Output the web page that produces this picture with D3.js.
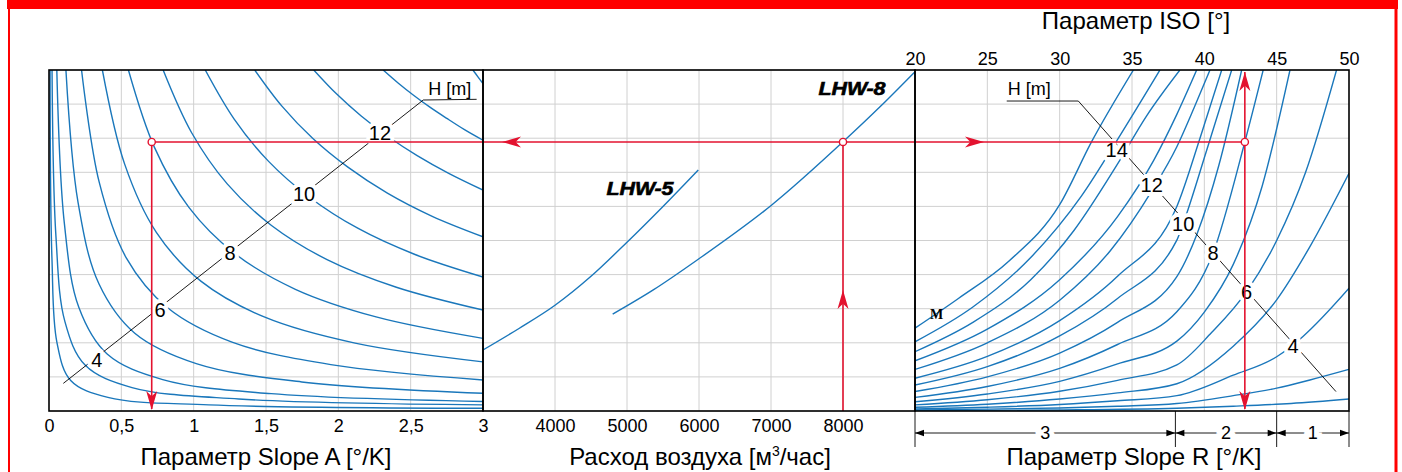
<!DOCTYPE html>
<html>
<head>
<meta charset="utf-8">
<script src="https://cdn.jsdelivr.net/npm/d3@7"></script>
<style>
  body { margin: 0; background: #fff; }
  text { font-family: "Liberation Sans", Arial, sans-serif; }
</style>
</head>
<body>
<div id="chart"></div>
<script>
// ---- data ----
// shared vertical scale (no labels), 10 grid divisions
var yTicks = [0, 1, 2, 3, 4, 5, 6, 7, 8, 9, 10];

// left panel: Slope A, one curve per H = 2..14
var slopeATicks = [0, 0.5, 1, 1.5, 2, 2.5, 3];
var slopeAH = [2, 3, 4, 5, 6, 7, 8, 9, 10, 11, 12, 13, 14];
var slopeACurves = [
  [[0.0075,10],[0.0204,4.47],[0.0553,2.0],[0.15,0.894],[0.407,0.4],[1.105,0.179],[3,0.08]],
  [[0.021,10],[0.048,5.12],[0.11,2.62],[0.251,1.34],[0.574,0.687],[1.312,0.352],[3,0.18]],
  [[0.054,10],[0.106,5.51],[0.206,3.04],[0.402,1.67],[0.786,0.922],[1.536,0.508],[3,0.28]],
  [[0.117,10],[0.201,6.11],[0.345,3.73],[0.593,2.28],[1.018,1.39],[1.747,0.852],[3,0.52]],
  [[0.225,10],[0.347,6.71],[0.533,4.5],[0.822,3.02],[1.265,2.02],[1.948,1.36],[3,0.91]],
  [[0.369,10],[0.523,7.24],[0.742,5.24],[1.052,3.8],[1.492,2.75],[2.116,1.99],[3,1.44]],
  [[0.549,10],[0.729,7.73],[0.967,5.97],[1.283,4.62],[1.703,3.57],[2.261,2.76],[3,2.13]],
  [[0.789,10],[0.986,8.16],[1.232,6.66],[1.538,5.44],[1.922,4.44],[2.401,3.63],[3,2.96]],
  [[1.08,10],[1.28,8.56],[1.518,7.32],[1.8,6.27],[2.134,5.36],[2.53,4.59],[3,3.93]],
  [[1.422,10],[1.61,8.94],[1.824,7.99],[2.066,7.15],[2.339,6.39],[2.649,5.71],[3,5.11]],
  [[1.83,10],[1.987,9.3],[2.158,8.65],[2.343,8.05],[2.545,7.49],[2.763,6.97],[3,6.48]],
  [[2.31,10],[2.413,9.62],[2.52,9.26],[2.633,8.91],[2.75,8.58],[2.872,8.25],[3,7.94]],
  [[2.93,10],[2.965,9.8],[3,9.6]]
];
var slopeALabelH = [4, 6, 8, 10, 12];
var slopeALabelX = [0.33, 0.767, 1.251, 1.763, 2.288];
var slopeALabelY = [1.5, 2.98, 4.64, 6.38, 8.16];
var slopeALeader = [[0.099, 0.81], [2.587, 9.12], [2.956, 9.14]];

// middle panel: air flow
var flowTicks = [4000, 5000, 6000, 7000, 8000];
var flowGrid = [4000, 5000, 6000, 7000, 8000];
var unitNames = ["LHW-5", "LHW-8"];
var unitCurves = [
  [[3000,1.79],[3500,2.42],[4000,3.1],[4500,3.95],[5000,4.95],[5500,6.0],[5990,7.07]],
  [[4801,2.84],[5365,3.55],[5990,4.45],[7010,6.04],[8004,7.9],[8514,8.92],[9000,9.95]]
];
var unitLabelX = [5180, 8125];
var unitLabelY = [6.54, 9.47];

// right panel: ISO, one curve per H = 16..2
var isoTicks = [20, 25, 30, 35, 40, 45, 50];
var isoH = [16, 15, 14, 13, 12, 11, 10, 9, 8, 7, 6, 5, 4, 3, 2];
var isoCurves = [
  [[20,2.43],[23,3.3],[26.5,4.4],[30,6.05],[32.2,7.89],[35.1,10]],
  [[20,2.03],[24,3.05],[28,4.5],[31.5,6.3],[34.2,8.1],[36.93,10]],
  [[20,1.74],[24,2.6],[28,3.85],[31,5.3],[33.94,7.2],[36,8.65],[38.31,10]],
  [[20,1.47],[25,2.4],[30,3.85],[34,5.7],[36.5,7.35],[38.1,8.7],[39.47,10]],
  [[20,1.22],[25,2.0],[30,3.25],[33.5,4.7],[36.36,6.45],[38.1,7.75],[39.3,8.9],[40.39,10]],
  [[20,0.96],[25,1.6],[30,2.65],[34,3.95],[38.1,6.0],[39.7,8.0],[41.2,10]],
  [[20,0.76],[25,1.3],[30,2.2],[34,3.3],[38.1,5.01],[38.54,5.5],[40.2,7.7],[41.89,10]],
  [[20,0.57],[25,1.0],[30,1.7],[34,2.6],[38.1,3.94],[39.5,5.2],[41,7.2],[42.58,10]],
  [[20,0.4],[25,0.72],[30,1.25],[34,1.95],[38.1,2.91],[40.61,4.64],[42.8,7.89],[44.07,10]],
  [[20,0.27],[25,0.5],[30,0.87],[34,1.38],[38.1,2.05],[40,2.9],[42,4.3],[44,6.6],[45.92,10]],
  [[20,0.18],[25,0.33],[30,0.58],[34,0.9],[38.1,1.35],[40.5,2.3],[42.92,3.5],[45,5.0],[47,7.0],[49.14,10]],
  [[20,0.11],[25,0.2],[30,0.35],[34,0.53],[38.1,0.8],[42,1.9],[45,3.26],[47.3,4.82],[50,6.97]],
  [[20,0.06],[25,0.11],[30,0.19],[34,0.3],[38.1,0.45],[42,1.05],[45,1.59],[46.8,2.18],[50,3.6]],
  [[20,0.03],[25,0.055],[30,0.09],[34,0.14],[38.1,0.22],[42,0.45],[45,0.67],[47.3,0.91],[50,1.22]],
  [[20,0.01],[30,0.03],[38.1,0.08],[42,0.14],[46,0.22],[50,0.35]]
];
var isoLabelH = [14, 12, 10, 8, 6, 4];
var isoLabelX = [33.94, 36.36, 38.54, 40.61, 42.92, 46.14];
var isoLabelY = [7.67, 6.63, 5.5, 4.64, 3.5, 1.91];
var isoLeader = [[26.34, 9.09], [31.29, 9.09], [49.1, 0.57]];
var slopeRBreaks = [20, 38, 45, 50];
var slopeRLabels = ["3", "2", "1"];

// worked example
var exampleSlopeA = 0.71;
var exampleFlow = 8000;
var exampleISO = 42.8;
var exampleLevel = 7.89;

// ---- drawing ----
var W = 1402, H = 472;
var plotTop = 70, plotBottom = 411;
var blue = "#1a77bb", red = "#e3122f", grid = "#d0d0d0";

var svg = d3.select("#chart").append("svg")
  .attr("width", W).attr("height", H);

// red frame
svg.append("rect").attr("x", 7).attr("y", 0).attr("width", 1391).attr("height", 9).attr("fill", "#ff0000");
svg.append("rect").attr("x", 8).attr("y", 0).attr("width", 2).attr("height", H).attr("fill", "#ff0000");
svg.append("rect").attr("x", 1394.5).attr("y", 0).attr("width", 3).attr("height", H).attr("fill", "#ff0000");

var y = d3.scaleLinear().domain([0, 10]).range([plotBottom, plotTop]);
var xA = d3.scaleLinear().domain([0, 3]).range([49, 483]);
var xQ = d3.scaleLinear().domain([3000, 9000]).range([483, 915]);
var xI = d3.scaleLinear().domain([20, 50]).range([915, 1349]);

var defs = svg.append("defs");
function clip(id, x0, x1) {
  defs.append("clipPath").attr("id", id).append("rect")
    .attr("x", x0).attr("y", plotTop).attr("width", x1 - x0).attr("height", plotBottom - plotTop);
  return "url(#" + id + ")";
}

function gridFor(x, vt) {
  var g = svg.append("g");
  var r = x.range();
  g.selectAll(".h").data(yTicks).enter().append("line")
    .attr("x1", r[0]).attr("x2", r[1])
    .attr("y1", function(d) { return y(d); }).attr("y2", function(d) { return y(d); })
    .attr("stroke", grid).attr("stroke-width", 1);
  g.selectAll(".v").data(vt).enter().append("line")
    .attr("x1", function(d) { return x(d); }).attr("x2", function(d) { return x(d); })
    .attr("y1", plotTop).attr("y2", plotBottom)
    .attr("stroke", grid).attr("stroke-width", 1);
}
gridFor(xA, [0.5, 1, 1.5, 2, 2.5]);
gridFor(xQ, flowGrid);
gridFor(xI, [25, 30, 35, 40, 45]);

// curves
var lineA = d3.line().x(function(d) { return xA(d[0]); }).y(function(d) { return y(d[1]); })
  .curve(d3.curveCatmullRom.alpha(0.5));
var lineQ = d3.line().x(function(d) { return xQ(d[0]); }).y(function(d) { return y(d[1]); })
  .curve(d3.curveMonotoneX);
var lineI = d3.line().x(function(d) { return xI(d[0]); }).y(function(d) { return y(d[1]); })
  .curve(d3.curveMonotoneX);

svg.append("g").attr("clip-path", clip("clipA", 49, 483))
  .selectAll("path").data(slopeACurves).enter().append("path")
  .attr("d", lineA).attr("fill", "none").attr("stroke", blue).attr("stroke-width", 1.4);

svg.append("g").attr("clip-path", clip("clipQ", 483, 915))
  .selectAll("path").data(unitCurves).enter().append("path")
  .attr("d", lineQ).attr("fill", "none").attr("stroke", blue).attr("stroke-width", 1.4);

svg.append("g").attr("clip-path", clip("clipI", 915, 1349))
  .selectAll("path").data(isoCurves).enter().append("path")
  .attr("d", lineI).attr("fill", "none").attr("stroke", blue).attr("stroke-width", 1.4);

// leader lines and H labels
function leader(x, pts) {
  svg.append("path")
    .attr("d", d3.line().x(function(d) { return x(d[0]); }).y(function(d) { return y(d[1]); })(pts))
    .attr("fill", "none").attr("stroke", "#000").attr("stroke-width", 0.9);
}
leader(xA, slopeALeader);
leader(xI, isoLeader);

function hLabels(x, hs, xs, ys) {
  svg.append("g").selectAll("text").data(hs).enter().append("text")
    .attr("x", function(d, i) { return x(xs[i]); })
    .attr("y", function(d, i) { return y(ys[i]); })
    .attr("dy", "0.36em")
    .attr("text-anchor", "middle")
    .attr("font-size", 20)
    .attr("stroke", "#fff").attr("stroke-width", 8).attr("paint-order", "stroke")
    .attr("stroke-linejoin", "round")
    .text(function(d) { return d; });
}
hLabels(xA, slopeALabelH, slopeALabelX, slopeALabelY);
hLabels(xI, isoLabelH, isoLabelX, isoLabelY);

svg.append("text").attr("x", xA(2.77)).attr("y", y(9.47)).attr("dy", "0.36em")
  .attr("text-anchor", "middle").attr("font-size", 18).text("H [m]");
svg.append("text").attr("x", xI(27.9)).attr("y", y(9.47)).attr("dy", "0.36em")
  .attr("text-anchor", "middle").attr("font-size", 18).text("H [m]");
svg.append("text").attr("x", xI(21.5)).attr("y", y(2.84)).attr("dy", "0.36em")
  .attr("text-anchor", "middle").attr("font-size", 14).attr("font-weight", "bold")
  .style("font-family", "'Liberation Serif', serif").text("M");

// unit labels
svg.append("g").selectAll("text").data(unitNames).enter().append("text")
  .attr("x", function(d, i) { return xQ(unitLabelX[i]); })
  .attr("y", function(d, i) { return y(unitLabelY[i]); })
  .attr("dy", "0.36em")
  .attr("text-anchor", "middle")
  .attr("font-size", 19).attr("font-weight", "bold").attr("font-style", "italic")
  .attr("stroke", "#000").attr("stroke-width", 0.6)
  .attr("textLength", 67).attr("lengthAdjust", "spacingAndGlyphs")
  .text(function(d) { return d; });

// worked example (red)
var ey = y(exampleLevel);
var ex0 = xA(exampleSlopeA), ex1 = xQ(exampleFlow), ex2 = xI(exampleISO);
var gr = svg.append("g").attr("stroke", red).attr("fill", "none").attr("stroke-width", 1.6);
gr.append("line").attr("x1", ex0).attr("x2", ex2).attr("y1", ey).attr("y2", ey);
gr.append("line").attr("x1", ex0).attr("x2", ex0).attr("y1", ey).attr("y2", plotBottom - 2);
gr.append("line").attr("x1", ex1).attr("x2", ex1).attr("y1", ey).attr("y2", plotBottom);
gr.append("line").attr("x1", ex2).attr("x2", ex2).attr("y1", plotTop + 2).attr("y2", plotBottom - 2);

function arrow(px, py, angle, len, wid) {
  // tip at px,py; angle is the direction the tip points (deg)
  var p = "M0,0 L" + (-len) + "," + (-wid / 2) + " L" + (-len * 0.72) + ",0 L" + (-len) + "," + (wid / 2) + " Z";
  svg.append("path").attr("d", p)
    .attr("transform", "translate(" + px + "," + py + ") rotate(" + angle + ")")
    .attr("fill", red);
}
arrow(ex0, plotBottom - 1, 90, 19, 11);
arrow(ex1, 290, -90, 19, 11);
arrow(502, ey, 180, 19, 11);
arrow(984, ey, 0, 19, 11);
arrow(ex2, plotTop + 2, -90, 19, 11);
arrow(ex2, plotBottom - 1, 90, 19, 11);

[ex0, ex1, ex2].forEach(function(cx) {
  svg.append("circle").attr("cx", cx).attr("cy", ey).attr("r", 3.6)
    .attr("fill", "#fff").attr("stroke", red).attr("stroke-width", 1.4);
});

// panel borders
[[49, 483], [483, 915], [915, 1349]].forEach(function(r) {
  svg.append("rect").attr("x", r[0]).attr("y", plotTop).attr("width", r[1] - r[0]).attr("height", plotBottom - plotTop)
    .attr("fill", "none").attr("stroke", "#000").attr("stroke-width", 1.6);
});

// axes
function styleAxis(g) {
  g.select(".domain").remove();
  g.selectAll("text").attr("font-size", 18).attr("fill", "#000")
    .style("font-family", "'Liberation Sans', Arial, sans-serif");
}
svg.append("g").attr("transform", "translate(0," + plotBottom + ")")
  .call(d3.axisBottom(xA).tickValues(slopeATicks).tickSize(0).tickPadding(8)
    .tickFormat(function(d) { return String(d).replace(".", ","); }))
  .call(styleAxis);
svg.append("g").attr("transform", "translate(0," + plotBottom + ")")
  .call(d3.axisBottom(xQ).tickValues(flowTicks).tickSize(0).tickPadding(8).tickFormat(d3.format("d")))
  .call(styleAxis);
svg.append("g").attr("transform", "translate(0," + plotTop + ")")
  .call(d3.axisTop(xI).tickValues(isoTicks).tickSize(0).tickPadding(5))
  .call(styleAxis);

// slope R dimension lines
var dim = svg.append("g");
var dimY = 433;
slopeRBreaks.forEach(function(b) {
  dim.append("line").attr("x1", xI(b)).attr("x2", xI(b)).attr("y1", plotBottom).attr("y2", 447)
    .attr("stroke", "#000").attr("stroke-width", 0.9);
});
slopeRLabels.forEach(function(lab, i) {
  var a = xI(slopeRBreaks[i]), b = xI(slopeRBreaks[i + 1]);
  dim.append("line").attr("x1", a).attr("x2", b).attr("y1", dimY).attr("y2", dimY)
    .attr("stroke", "#000").attr("stroke-width", 0.9);
  [[a, 180], [b, 0]].forEach(function(t) {
    dim.append("path").attr("d", "M0,0 L-9,-3.2 L-9,3.2 Z")
      .attr("transform", "translate(" + t[0] + "," + dimY + ") rotate(" + t[1] + ")")
      .attr("fill", "#000");
  });
  dim.append("text").attr("x", (a + b) / 2).attr("y", dimY).attr("dy", "0.36em")
    .attr("text-anchor", "middle").attr("font-size", 18)
    .attr("stroke", "#fff").attr("stroke-width", 10).attr("paint-order", "stroke")
    .text(lab);
});

// axis titles
svg.append("text").attr("x", 266).attr("y", 465).attr("text-anchor", "middle")
  .attr("font-size", 24).text("Параметр Slope A [°/K]");
var tq = svg.append("text").attr("x", 700).attr("y", 465).attr("text-anchor", "middle")
  .attr("font-size", 24);
tq.append("tspan").text("Расход воздуха [м");
tq.append("tspan").attr("font-size", 14).attr("dy", -9).text("3");
tq.append("tspan").attr("dy", 9).text("/час]");
svg.append("text").attr("x", 1134).attr("y", 465).attr("text-anchor", "middle")
  .attr("font-size", 24).text("Параметр Slope R [°/K]");
svg.append("text").attr("x", 1136).attr("y", 29).attr("text-anchor", "middle")
  .attr("font-size", 24).text("Параметр ISO [°]");
</script>
</body>
</html>
